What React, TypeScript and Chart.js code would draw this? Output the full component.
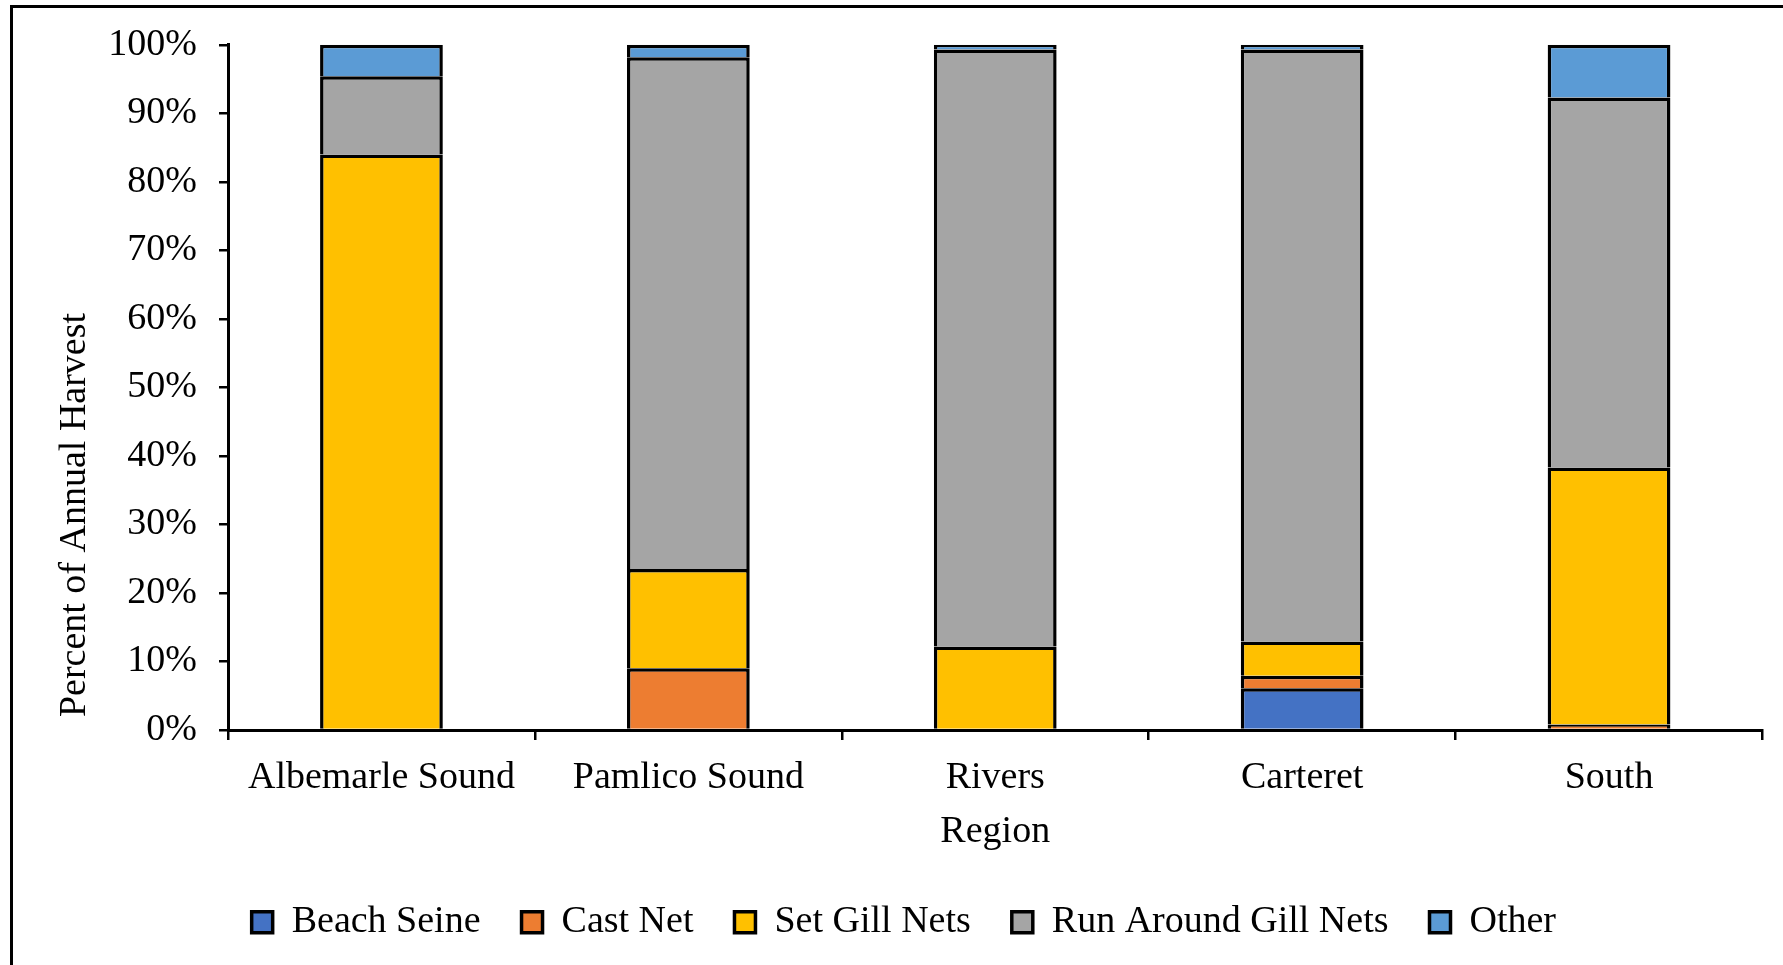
import { useEffect, useRef } from 'react';
import { Chart, registerables } from 'chart.js';

Chart.register(...registerables);

const regions = ['Albemarle Sound', 'Pamlico Sound', 'Rivers', 'Carteret', 'South'];
const seriesNames = ['Beach Seine', 'Cast Net', 'Set Gill Nets', 'Run Around Gill Nets', 'Other'];
const beachSeine = [0, 0, 0, 6.1, 0];
const castNet = [0, 9.0, 0, 1.8, 0.8];
const setGillNets = [84.0, 14.5, 12.2, 5.0, 37.5];
const runAroundGillNets = [11.4, 74.7, 87.1, 86.4, 54.0];
const other = [4.6, 1.8, 0.7, 0.7, 7.7];
const seriesColors = ['#4472C4', '#ED7D31', '#FFC000', '#A5A5A5', '#5B9BD5'];
const yAxisTitle = 'Percent of Annual Harvest';
const xAxisTitle = 'Region';

const FONT = "'Liberation Serif', 'Times New Roman', serif";
const PAD_LEFT = 45.2;

const yTitlePlugin = {
  id: 'yTitleCustom',
  afterDraw(chart: any) {
    const { ctx, chartArea } = chart;
    ctx.save();
    ctx.translate(75, chartArea.bottom - 215);
    ctx.rotate(-Math.PI / 2);
    ctx.font = `38px ${FONT}`;
    ctx.fillStyle = '#000';
    ctx.textAlign = 'center';
    ctx.textBaseline = 'middle';
    ctx.fillText(yAxisTitle, 0, 0);
    ctx.restore();
  },
};

export default function App() {
  const ref = useRef<HTMLCanvasElement | null>(null);

  useEffect(() => {
    if (!ref.current) return;
    const all = [beachSeine, castNet, setGillNets, runAroundGillNets, other];
    const chart = new Chart(ref.current, {
      type: 'bar',
      data: {
        labels: regions,
        datasets: all.map((d, i) => ({
          label: seriesNames[i],
          data: d,
          backgroundColor: seriesColors[i],
          borderColor: '#000000',
          borderWidth: 3.5,
          barPercentage: 0.4,
          categoryPercentage: 1.0,
        })),
      },
      options: {
        responsive: false,
        animation: false,
        devicePixelRatio: 1,
        layout: { padding: { left: PAD_LEFT, right: 20.5, top: 44, bottom: 13.7 } },
        font: { family: FONT, size: 38 },
        plugins: {
          tooltip: { enabled: false },
          legend: {
            position: 'bottom',
            align: 'center',
            labels: {
              font: { family: FONT, size: 38 },
              color: '#000',
              boxWidth: 21,
              boxHeight: 21,
              padding: 41,
            },
          },
        },
        scales: {
          x: {
            stacked: true,
            afterFit: (s: any) => { s.height = 132.3; },
            grid: {
              display: true,
              drawOnChartArea: false,
              drawTicks: true,
              tickLength: 10,
              color: '#000',
              lineWidth: 2.5,
              offset: true,
            },
            border: { display: true, color: '#000', width: 3 },
            ticks: {
              color: '#000',
              font: { family: FONT, size: 38 },
              padding: 15.5,
              maxRotation: 0,
              autoSkip: false,
            },
            title: {
              display: true,
              text: xAxisTitle,
              color: '#000',
              font: { family: FONT, size: 38 },
              padding: { top: 0, bottom: 7.2 },
            },
          },
          y: {
            stacked: true,
            min: 0,
            max: 100,
            afterFit: (s: any) => { s.width = 228 - PAD_LEFT; },
            grid: {
              display: true,
              drawOnChartArea: false,
              drawTicks: true,
              tickLength: 9,
              color: '#000',
              lineWidth: 2.5,
            },
            border: { display: true, color: '#000', width: 3 },
            ticks: {
              stepSize: 10,
              color: '#000',
              font: { family: FONT, size: 38 },
              padding: 22,
              callback: (v: any) => `${v}%`,
            },
            title: { display: false },
          },
        },
      },
      plugins: [yTitlePlugin],
    });
    return () => chart.destroy();
  }, []);

  return (
    <>
      <canvas
        ref={ref}
        width={1783}
        height={965}
        style={{ position: 'fixed', left: 0, top: 0, width: 1783, height: 965, display: 'block', background: '#fff' }}
      />
      <div
        style={{
          position: 'fixed',
          left: 10,
          top: 5,
          width: 1773,
          height: 960,
          boxSizing: 'border-box',
          borderLeft: '3px solid #000',
          borderTop: '3px solid #000',
          pointerEvents: 'none',
        }}
      />
    </>
  );
}
